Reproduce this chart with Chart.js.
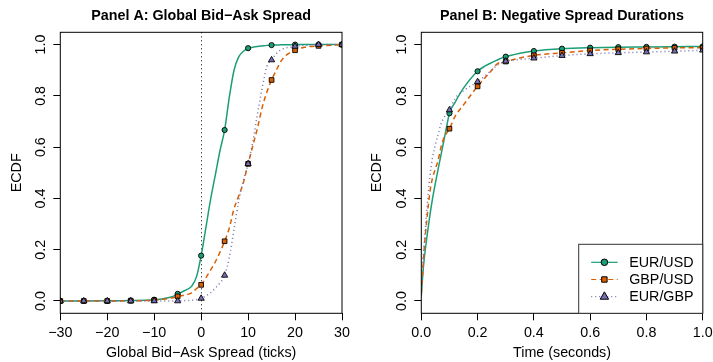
<!DOCTYPE html>
<html>
<head>
<meta charset="utf-8">
<script src="https://cdn.jsdelivr.net/npm/chart.js@4.4.1/dist/chart.umd.min.js"></script>
<style>
  html, body { margin: 0; padding: 0; background: #fff; }
  #wrap { position: relative; width: 713px; height: 362px; }
  .panel { position: absolute; top: 0; height: 362px; }
  #panelA { left: 0; width: 357px; }
  #panelB { left: 357px; width: 356px; }
</style>
</head>
<body>
<div id="wrap">
  <div class="panel" id="panelA"><canvas id="chartA"></canvas></div>
  <div class="panel" id="panelB"><canvas id="chartB"></canvas></div>
</div>
<script>
Chart.defaults.font.family = "'Liberation Sans', Arial, Helvetica, sans-serif"
Chart.defaults.color = "#000"
const fontSize = 14.3

const seriesNames = ["EUR/USD", "GBP/USD", "EUR/GBP"]
const seriesColors = ["#1B9E77", "#D95F02", "#7570B3"]
const seriesDash = [[], [5, 3.5], [1, 3]]
const seriesMarkers = ["circle", "rect", "triangle"]

// Panel A: global bid-ask spread (ticks)
const spreadTicks = [-30, -20, -10, 0, 10, 20, 30]
const spreadMarks = [-30, -25, -20, -15, -10, -5, 0, 5, 10, 15, 20, 25, 30]
const eurusdSpreadMarks = [0, 0, 0, 0.002, 0.005, 0.028, 0.177, 0.667, 0.986, 0.998, 1, 1, 1]
const gbpusdSpreadMarks = [0, 0, 0, 0.001, 0.003, 0.018, 0.063, 0.233, 0.535, 0.862, 0.978, 0.995, 1]
const eurgbpSpreadMarks = [0, 0, 0, 0, 0, 0, 0.01, 0.1, 0.535, 0.94, 0.993, 1, 1]
const spreadGrid = [-30, -25, -20, -15, -10, -8, -6, -5, -4, -3, -2, -1, 0, 1, 2, 3, 4, 5, 6, 7, 8, 9, 10,
                    11, 12, 13, 14, 15, 16, 17, 18, 19, 20, 22, 25, 30]
const eurusdSpread = [0, 0, 0.001, 0.002, 0.005, 0.009, 0.018, 0.028, 0.036, 0.045, 0.058, 0.094, 0.177,
                      0.285, 0.395, 0.49, 0.585, 0.667, 0.795, 0.9, 0.952, 0.974, 0.986,
                      0.99, 0.993, 0.995, 0.997, 0.998, 0.998, 0.999, 0.999, 0.999, 1, 1, 1, 1]
const gbpusdSpread = [0, 0, 0, 0.001, 0.003, 0.007, 0.013, 0.018, 0.021, 0.025, 0.032, 0.048, 0.063,
                      0.09, 0.12, 0.152, 0.19, 0.233, 0.285, 0.36, 0.41, 0.462, 0.535,
                      0.605, 0.675, 0.755, 0.815, 0.862, 0.9, 0.935, 0.957, 0.97, 0.978, 0.99, 0.995, 1]
const eurgbpSpread = [0, 0, 0, 0, 0, 0, 0, 0, 0.001, 0.002, 0.003, 0.005, 0.01,
                      0.02, 0.032, 0.05, 0.07, 0.1, 0.17, 0.28, 0.39, 0.47, 0.535,
                      0.62, 0.73, 0.83, 0.915, 0.94, 0.965, 0.98, 0.987, 0.99, 0.993, 0.997, 1, 1]

// Panel B: negative spread durations (seconds)
const timeTicks = [0, 0.2, 0.4, 0.6, 0.8, 1.0]
const timeMarks = [0.1, 0.2, 0.3, 0.4, 0.5, 0.6, 0.7, 0.8, 0.9, 1.0]
const eurusdTimeMarks = [0.732, 0.896, 0.953, 0.975, 0.984, 0.988, 0.99, 0.991, 0.992, 0.993]
const gbpusdTimeMarks = [0.672, 0.837, 0.934, 0.958, 0.968, 0.977, 0.982, 0.985, 0.987, 0.988]
const eurgbpTimeMarks = [0.745, 0.855, 0.935, 0.947, 0.957, 0.964, 0.968, 0.971, 0.974, 0.978]
const timeGrid = [0, 0.005, 0.01, 0.02, 0.03, 0.04, 0.05, 0.06, 0.07, 0.08, 0.09, 0.1, 0.12, 0.15,
                  0.2, 0.25, 0.27, 0.3, 0.35, 0.4, 0.5, 0.6, 0.7, 0.8, 0.9, 1.0]
const eurusdTime = [0.02, 0.1, 0.16, 0.25, 0.33, 0.4, 0.46, 0.515, 0.57, 0.625, 0.68, 0.732, 0.775, 0.83,
                    0.896, 0.93, 0.94, 0.953, 0.966, 0.975, 0.984, 0.988, 0.99, 0.991, 0.992, 0.993]
const gbpusdTime = [0.03, 0.11, 0.2, 0.32, 0.42, 0.48, 0.515, 0.55, 0.6, 0.635, 0.655, 0.672, 0.72, 0.765,
                    0.837, 0.9, 0.925, 0.934, 0.948, 0.958, 0.968, 0.977, 0.982, 0.985, 0.987, 0.988]
const eurgbpTime = [0.04, 0.15, 0.22, 0.36, 0.48, 0.56, 0.61, 0.65, 0.69, 0.715, 0.73, 0.745, 0.79, 0.82,
                    0.855, 0.9, 0.92, 0.935, 0.942, 0.947, 0.957, 0.964, 0.968, 0.971, 0.974, 0.978]

const ecdfTicks = [0, 0.2, 0.4, 0.6, 0.8, 1.0]
const refLineX = 0

const minus = v => String(v).replace("-", "\u2212")

function buildDatasets(grid, curves, marks, markVals){
    let sets = []
    curves.forEach((ys, i) => {
        sets.push({
            label: "",
            data: grid.map((x, k) => ({x: x, y: ys[k]})),
            borderColor: seriesColors[i],
            borderWidth: 1.5,
            borderDash: seriesDash[i],
            pointRadius: 0,
            cubicInterpolationMode: "monotone",
            fill: false,
            order: 10 - 2 * i
        })
        sets.push({
            label: seriesNames[i],
            data: marks.map((x, k) => ({x: x, y: markVals[i][k]})),
            showLine: false,
            pointStyle: seriesMarkers[i],
            pointRadius: [2.6, 3.3, 3.6][i],
            pointBackgroundColor: seriesColors[i],
            pointBorderColor: "#000",
            pointBorderWidth: 0.9,
            clip: 0,
            order: 9 - 2 * i
        })
    })
    return sets
}

const boxPlugin = {
    id: "box",
    afterDatasetsDraw(chart){
        const a = chart.chartArea
        const ctx = chart.ctx
        ctx.save()
        ctx.strokeStyle = "#000"
        ctx.lineWidth = 1
        ctx.strokeRect(a.left, a.top, a.right - a.left, a.bottom - a.top)
        ctx.restore()
    }
}

const zeroLinePlugin = {
    id: "zeroLine",
    beforeDatasetsDraw(chart){
        const a = chart.chartArea
        const x = Math.round(chart.scales.x.getPixelForValue(refLineX)) + 0.5
        const ctx = chart.ctx
        ctx.save()
        ctx.strokeStyle = "#000"
        ctx.lineWidth = 1
        ctx.setLineDash([1, 3])
        ctx.beginPath()
        ctx.moveTo(x, a.top)
        ctx.lineTo(x, a.bottom)
        ctx.stroke()
        ctx.restore()
    }
}

function drawMarker(ctx, style, x, y, r){
    ctx.beginPath()
    if (style === "circle"){
        ctx.arc(x, y, r, 0, Math.PI * 2)
    } else if (style === "rect"){
        ctx.rect(x - r, y - r, 2 * r, 2 * r)
    } else {
        ctx.moveTo(x, y - r * 1.15)
        ctx.lineTo(x + r, y + r * 0.6)
        ctx.lineTo(x - r, y + r * 0.6)
        ctx.closePath()
    }
    ctx.fill()
    ctx.stroke()
}

const legendPlugin = {
    id: "boxLegend",
    afterDraw(chart){
        const a = chart.chartArea
        const ctx = chart.ctx
        const left = a.right - 124, top = a.bottom - 69
        ctx.save()
        ctx.fillStyle = "#fff"
        ctx.fillRect(left, top, a.right - left, a.bottom - top)
        ctx.strokeStyle = "#333"
        ctx.lineWidth = 1
        ctx.strokeRect(left, top, a.right - left, a.bottom - top)
        ctx.font = fontSize + "px 'Liberation Sans', Arial, sans-serif"
        ctx.textBaseline = "middle"
        const sets = chart.data.datasets.filter(d => d.label)
        sets.forEach((d, i) => {
            const y = top + 18 + i * 17.2
            const k = seriesNames.indexOf(d.label)
            ctx.strokeStyle = seriesColors[k]
            ctx.lineWidth = 1.2
            ctx.setLineDash(seriesDash[k])
            ctx.beginPath()
            ctx.moveTo(left + 12.5, y)
            ctx.lineTo(left + 39, y)
            ctx.stroke()
            ctx.setLineDash([])
            ctx.fillStyle = seriesColors[k]
            ctx.strokeStyle = "#000"
            ctx.lineWidth = 1
            drawMarker(ctx, seriesMarkers[k], left + 25.7, y, [3.3, 2.7, 4.2][k])
            ctx.fillStyle = "#000"
            ctx.fillText(d.label, left + 50.5, y + 0.5)
        })
        ctx.restore()
    }
}

function makePanel(id, cfg){
    return new Chart(document.getElementById(id), {
        type: "line",
        data: { datasets: cfg.datasets },
        options: {
            responsive: true,
            maintainAspectRatio: false,
            animation: false,
            layout: { padding: { left: 0, right: cfg.padRight, top: 0, bottom: 0 } },
            plugins: {
                legend: { display: false },
                tooltip: { enabled: false },
                title: {
                    display: true,
                    text: cfg.title,
                    fullSize: false,
                    font: { size: fontSize, weight: "bold" },
                    padding: { top: 7.3, bottom: 7.84 }
                }
            },
            scales: {
                x: {
                    type: "linear",
                    min: cfg.xMin,
                    max: cfg.xMax,
                    afterBuildTicks: s => { s.ticks = cfg.xTicks.map(v => ({value: v})) },
                    afterFit: s => { s.height = 48.7; s.paddingLeft = 0; s.paddingRight = 0 },
                    border: { display: false },
                    grid: { drawOnChartArea: false, drawTicks: true, tickLength: 7, color: "#000" },
                    ticks: { font: { size: fontSize }, padding: 4.5, maxRotation: 0, autoSkip: false,
                             callback: v => cfg.xFormat(v) },
                    title: { display: true, text: cfg.xTitle, font: { size: fontSize },
                             padding: { top: 0, bottom: 0 } }
                },
                y: {
                    type: "linear",
                    min: -0.048,
                    max: 1.048,
                    afterBuildTicks: s => { s.ticks = ecdfTicks.map(v => ({value: v})) },
                    afterFit: s => { s.width = cfg.yWidth; s.paddingTop = 0; s.paddingBottom = 0 },
                    border: { display: false },
                    grid: { drawOnChartArea: false, drawTicks: true, tickLength: 7, color: "#000" },
                    ticks: { font: { size: fontSize }, padding: 2, minRotation: 90, maxRotation: 90,
                             crossAlign: "center", autoSkip: false, callback: v => v.toFixed(1) },
                    title: { display: true, text: "ECDF", font: { size: fontSize },
                             padding: { top: cfg.yTitlePad, bottom: 0 } }
                }
            }
        },
        plugins: cfg.plugins
    })
}

makePanel("chartA", {
    title: "Panel A: Global Bid\u2212Ask Spread",
    xTitle: "Global Bid\u2212Ask Spread (ticks)",
    xMin: -30, xMax: 30, xTicks: spreadTicks, xFormat: v => minus(v),
    yWidth: 60.3, yTitlePad: 8.1, padRight: 15,
    datasets: buildDatasets(spreadGrid, [eurusdSpread, gbpusdSpread, eurgbpSpread], spreadMarks,
                            [eurusdSpreadMarks, gbpusdSpreadMarks, eurgbpSpreadMarks]),
    plugins: [zeroLinePlugin, boxPlugin]
})

makePanel("chartB", {
    title: "Panel B: Negative Spread Durations",
    xTitle: "Time (seconds)",
    xMin: 0, xMax: 1, xTicks: timeTicks, xFormat: v => v.toFixed(1),
    yWidth: 64.3, yTitlePad: 11.1, padRight: 10.3,
    datasets: buildDatasets(timeGrid, [eurusdTime, gbpusdTime, eurgbpTime], timeMarks,
                            [eurusdTimeMarks, gbpusdTimeMarks, eurgbpTimeMarks]),
    plugins: [boxPlugin, legendPlugin]
})
</script>
</body>
</html>
